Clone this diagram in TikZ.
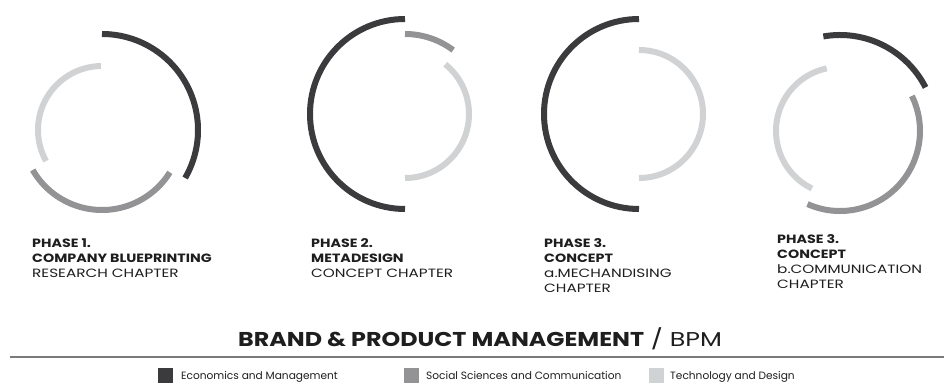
\documentclass[tikz,border=0pt]{standalone}
\usepackage{fontspec}
\setmainfont{Poppins}[FakeStretch=1.27, BoldFeatures={FakeStretch=1.19}]
\newfontfamily\legendfont{Poppins}
\usepackage{xcolor}
\usetikzlibrary{positioning}

\definecolor{ecodark}{HTML}{3B3B3D}
\definecolor{socmid}{HTML}{939396}
\definecolor{techlight}{HTML}{D1D2D4}
\definecolor{inkgray}{HTML}{1E1E1E}
\definecolor{rulegray}{HTML}{7A7A7A}

\tikzset{
  ring/.style={line width=6pt, line cap=butt},
  arcdark/.style={ring, draw=ecodark},
  arcmid/.style={ring, draw=socmid},
  arclight/.style={ring, draw=techlight},
  % base sits on the last line of a multi-line node
  phaselabel/.style={anchor=base west, align=left, inner sep=0pt, text=inkgray,
    font=\fontsize{12}{15.3}\selectfont},
  legendbox/.style={minimum size=15pt, inner sep=0pt, anchor=south west},
  legendtext/.style={anchor=base west, inner sep=0pt, text=inkgray,
    font=\legendfont\fontsize{10.6}{13}\selectfont}
}

\begin{document}
\begin{tikzpicture}[x=1pt, y=1pt]
    \useasboundingbox (0,0) rectangle (944,385);

    % Ring centres
    \coordinate (c1) at (102,255);
    \coordinate (c2) at (405,271);
    \coordinate (c3) at (639,271);
    \coordinate (c4) at (840,254);

    % Phase 1
    \draw[arcdark]  ([shift={(-30:96)}]c1) arc[start angle=-30, end angle=90, radius=96];
    \draw[arcmid]   ([shift={(210:80)}]c1) arc[start angle=210, end angle=328, radius=80];
    \draw[arclight] ([shift={(91:64)}]c1)  arc[start angle=91, end angle=209, radius=64];

    % Phase 2
    \draw[arcdark]  ([shift={(90:95)}]c2)  arc[start angle=90, end angle=270, radius=95];
    \draw[arcmid]   ([shift={(53:80)}]c2)  arc[start angle=53, end angle=90, radius=80];
    \draw[arclight] ([shift={(-90:64)}]c2) arc[start angle=-90, end angle=51, radius=64];

    % Phase 3a
    \draw[arcdark]  ([shift={(90:95)}]c3)  arc[start angle=90, end angle=270, radius=95];
    \draw[arclight] ([shift={(-90:64)}]c3) arc[start angle=-90, end angle=90, radius=64];

    % Phase 3b
    \draw[arcdark]  ([shift={(27:96)}]c4)  arc[start angle=27, end angle=100, radius=96];
    \draw[arcmid]   ([shift={(246:80)}]c4) arc[start angle=246, end angle=386, radius=80];
    \draw[arclight] ([shift={(102:64)}]c4) arc[start angle=102, end angle=244, radius=64];

    % Phase captions
    \node[phaselabel] (phase1) at (32,107)
      {\textbf{PHASE 1.}\\\textbf{COMPANY BLUEPRINTING}\\RESEARCH CHAPTER};
    \node[phaselabel] (phase2) at (311,107)
      {\textbf{PHASE 2.}\\\textbf{METADESIGN}\\CONCEPT CHAPTER};
    \node[phaselabel] (phase3a) at (544,92)
      {\textbf{PHASE 3.}\\\textbf{CONCEPT}\\a.MECHANDISING\\CHAPTER};
    \node[phaselabel] (phase3b) at (777,96)
      {\textbf{PHASE 3.}\\\textbf{CONCEPT}\\b.COMMUNICATION\\CHAPTER};

    % Title and rule
    \node[anchor=base west, inner sep=0pt, text=inkgray, font=\fontsize{20}{24}\selectfont]
      (title) at (238,38) {\textbf{BRAND \& PRODUCT MANAGEMENT} / BPM};
    \coordinate (ruleL) at (10,28);
    \coordinate (ruleR) at (944,28);
    \draw[rulegray, line width=1.2pt] (ruleL) -- (ruleR);

    % Legend
    \node[legendbox, fill=ecodark]   (boxeco)  at (158,2) {};
    \node[legendbox, fill=socmid]    (boxsoc)  at (404,2) {};
    \node[legendbox, fill=techlight] (boxtech) at (649,2) {};
    \node[legendtext] (txteco)  at (181,5) {Economics and Management};
    \node[legendtext] (txtsoc)  at (426,5) {Social Sciences and Communication};
    \node[legendtext] (txttech) at (670,5) {Technology and Design};
\end{tikzpicture}
\end{document}
